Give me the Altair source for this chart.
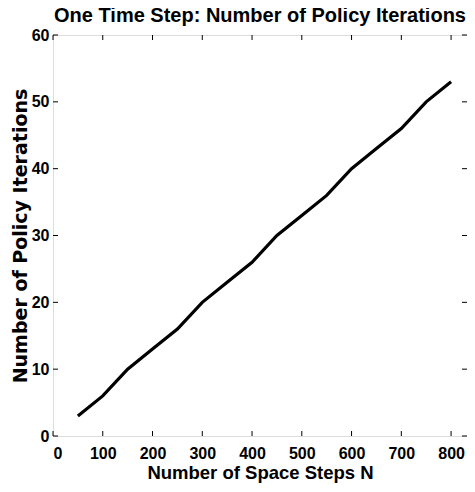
import altair as alt
import pandas as pd

space_steps = [50, 100, 150, 200, 250, 300, 350, 400, 450, 500, 550, 600, 650, 700, 750, 800]
policy_iters = [3, 6, 10, 13, 16, 20, 23, 26, 30, 33, 36, 40, 43, 46, 50, 53]
x_ticks = [0, 100, 200, 300, 400, 500, 600, 700, 800]
y_ticks = [0, 10, 20, 30, 40, 50, 60]

W, H = 414, 401
TL = 5
FONT = "Liberation Sans"

df = pd.DataFrame({"N": space_steps, "iters": policy_iters})
xt = pd.DataFrame({"v": x_ticks})
yt = pd.DataFrame({"v": y_ticks})

xscale = alt.Scale(domain=[0, 832], nice=False, zero=False)
yscale = alt.Scale(domain=[0, 60], nice=False)

line = alt.Chart(df).mark_line(color="black", strokeWidth=3.2).encode(
    x=alt.X("N:Q", scale=xscale, title="Number of Space Steps N",
            axis=alt.Axis(values=x_ticks, tickSize=0, domain=False, grid=False,
                          labelFont=FONT, labelFontSize=16, labelFontWeight="bold",
                          labelColor="black", labelPadding=9,
                          titleFont=FONT, titleFontSize=18.5, titleFontWeight="bold",
                          titleColor="black", titleBaseline="alphabetic", titleY=42)),
    y=alt.Y("iters:Q", scale=yscale, title="Number of Policy Iterations",
            axis=alt.Axis(values=y_ticks, tickSize=0, domain=False, grid=False,
                          labelFont=FONT, labelFontSize=16, labelFontWeight="bold",
                          labelColor="black", labelPadding=4,
                          titleFont="DejaVu Sans", titleFontSize=19, titleFontWeight="bold",
                          titleColor="black", titleAngle=270, titleBaseline="alphabetic",
                          titleAlign="center", titleX=-27, titleY=H / 2)),
)

tick_style = dict(color="black", strokeWidth=1)
left_ticks = alt.Chart(yt).mark_rule(**tick_style).encode(
    y=alt.Y("v:Q", scale=yscale), x=alt.value(0), x2=alt.value(TL))
right_ticks = alt.Chart(yt).mark_rule(**tick_style).encode(
    y=alt.Y("v:Q", scale=yscale), x=alt.value(W - TL), x2=alt.value(W))
bottom_ticks = alt.Chart(xt).mark_rule(**tick_style).encode(
    x=alt.X("v:Q", scale=xscale), y=alt.value(H), y2=alt.value(H - TL))
top_ticks = alt.Chart(xt).mark_rule(**tick_style).encode(
    x=alt.X("v:Q", scale=xscale), y=alt.value(0), y2=alt.value(TL))

chart = alt.layer(line, left_ticks, right_ticks, bottom_ticks, top_ticks).properties(
    width=W, height=H,
    title=alt.TitleParams("One Time Step: Number of Policy Iterations",
                          font=FONT, fontSize=20, fontWeight="bold",
                          color="black", anchor="middle", offset=1),
    autosize=alt.AutoSizeParams(type="none"),
    padding={"left": 45, "top": 27, "right": 0, "bottom": 48},
).configure_view(stroke="black", strokeWidth=1.5).configure(background="white")

chart.save("out.html", embed_options={"renderer": "svg", "actions": False})
